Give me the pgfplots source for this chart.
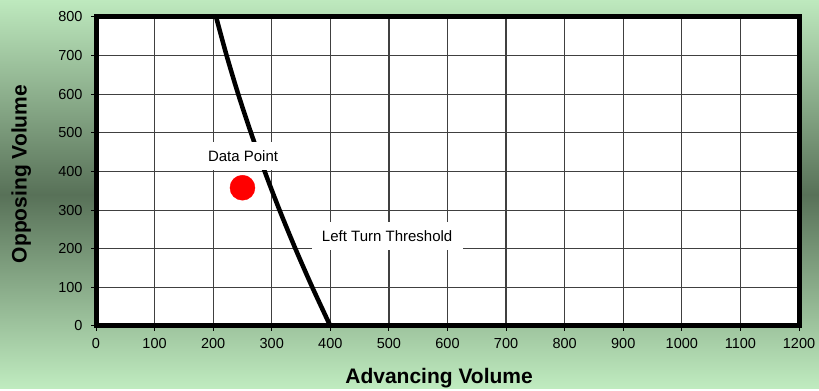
\documentclass[border=0pt]{standalone}
\usepackage{fontspec}
\setmainfont{Liberation Sans}
\usepackage{pgfplots}
\pgfplotsset{compat=1.18}

\definecolor{bgtop}{RGB}{190,233,190}
\definecolor{bgmid}{RGB}{88,113,88}
\definecolor{bgbot}{RGB}{192,236,192}

\begin{document}
\begin{tikzpicture}[x=1bp,y=1bp]
% green backdrop, darker across the middle
\shade[top color=bgtop, bottom color=bgbot, middle color=bgmid] (0,0) rectangle (819,389);
\begin{axis}[
  at={(96bp,63bp)}, anchor=south west,
  scale only axis, width=703bp, height=309bp,
  xmin=0, xmax=1200, ymin=0, ymax=800,
  xtick={0,100,...,1200}, ytick={0,100,...,800},
  grid=major, grid style={black!75, line width=1.2bp},
  axis line style={line width=5bp, black},
  axis background/.style={fill=white},
  tick align=outside, major tick length=5bp,
  tick style={black, line width=1bp},
  tick pos=left,
  /pgf/number format/assume math mode=true,
  /pgf/number format/1000 sep={},
  tick label style={font=\fontsize{14.5bp}{16bp}\selectfont},
  yticklabel style={xshift=-5bp},
  xticklabel style={yshift=-4bp},
  xlabel={Advancing Volume}, ylabel={Opposing Volume},
  label style={font=\bfseries\fontsize{21bp}{24bp}\selectfont},
  xlabel style={at={(axis description cs:0.488,-0.1845)}, anchor=base},
  ylabel style={at={(axis description cs:-0.0986,0.492)}, anchor=base},
]
% left turn threshold curve
\addplot[black, line width=4.5bp, smooth] coordinates {
  (400,0) (369.3,100) (340.4,200) (313.3,300) (288,400)
  (264.6,500) (242.8,600) (223,700) (205,800)
};
% observed volumes
\addplot[only marks, mark=*, mark size=12.5bp,
  mark options={draw=red, fill=red}] coordinates {(250,358)};
\node[fill=white, inner sep=0pt, minimum width=90bp, minimum height=28bp,
  font=\fontsize{15bp}{18bp}\selectfont] at (axis cs:251,440) {Data Point};
\node[fill=white, inner sep=0pt, minimum width=151bp, minimum height=28bp,
  font=\fontsize{15bp}{18bp}\selectfont] at (axis cs:497,233) {Left Turn Threshold};
\end{axis}
\end{tikzpicture}
\end{document}
